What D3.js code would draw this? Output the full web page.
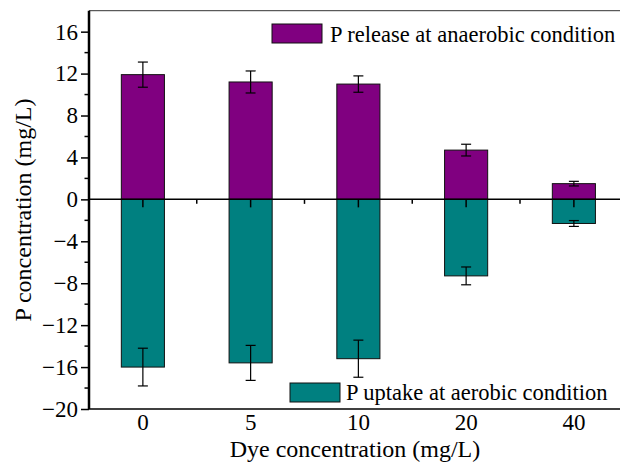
<!DOCTYPE html>
<html>
<head>
<meta charset="utf-8">
<script src="https://cdn.jsdelivr.net/npm/d3@7"></script>
<style>
  body { margin: 0; background: #fff; }
  svg text { font-family: "Liberation Serif", "Times New Roman", "DejaVu Serif", serif; }
</style>
</head>
<body>
<svg id="chart" width="620" height="471"></svg>
<script>
// dye concentration categories (mg/L)
var categories = ["0", "5", "10", "20", "40"];
// P release at anaerobic condition, mean and error
var releaseVals = [11.9, 11.2, 11.0, 4.7, 1.5];
var releaseErr = [1.2, 1.05, 0.78, 0.56, 0.22];
// P uptake at aerobic condition, mean and error
var uptakeVals = [-16.0, -15.6, -15.2, -7.3, -2.3];
var uptakeErr = [1.8, 1.67, 1.77, 0.85, 0.28];
var yTicks = [-20, -16, -12, -8, -4, 0, 4, 8, 12, 16];
var legendLabels = ["P release at anaerobic condition", "P uptake at aerobic condition"];
var colors = ["#800080", "#008080"];

var serif = "'Liberation Serif', 'Times New Roman', serif";
var svg = d3.select("#chart");
var plotL = 89, plotR = 627.75, plotT = 10.7, plotB = 409;

var x = d3.scaleBand().domain(categories).range([plotL, plotR])
  .paddingInner(0.6).paddingOuter(0.3);
var y = d3.scaleLinear().domain([-20, 18]).range([plotB, plotT]);

// frame lines (top and bottom)
svg.append("line").attr("x1", plotL).attr("x2", 620).attr("y1", plotT).attr("y2", plotT)
  .attr("stroke", "#333").attr("stroke-width", 1);
svg.append("line").attr("x1", plotL).attr("x2", 620).attr("y1", plotB).attr("y2", plotB)
  .attr("stroke", "#000").attr("stroke-width", 1.5);

// bars
function drawBars(vals, errs, color) {
  svg.selectAll(null).data(vals).enter().append("rect")
    .attr("x", function(d, i) { return x(categories[i]); })
    .attr("width", x.bandwidth())
    .attr("y", function(d) { return y(Math.max(0, d)); })
    .attr("height", function(d) { return Math.abs(y(d) - y(0)); })
    .attr("fill", color)
    .attr("stroke", "#111").attr("stroke-width", 1);

  var g = svg.selectAll(null).data(vals).enter().append("g")
    .attr("stroke", "#000").attr("stroke-width", 1.2);
  g.append("line")
    .attr("x1", function(d, i) { return x(categories[i]) + x.bandwidth() / 2; })
    .attr("x2", function(d, i) { return x(categories[i]) + x.bandwidth() / 2; })
    .attr("y1", function(d, i) { return y(d - errs[i]); })
    .attr("y2", function(d, i) { return y(d + errs[i]); });
  [-1, 1].forEach(function(s) {
    g.append("line")
      .attr("x1", function(d, i) { return x(categories[i]) + x.bandwidth() / 2 - 5; })
      .attr("x2", function(d, i) { return x(categories[i]) + x.bandwidth() / 2 + 5; })
      .attr("y1", function(d, i) { return y(d + s * errs[i]); })
      .attr("y2", function(d, i) { return y(d + s * errs[i]); });
  });
}
drawBars(releaseVals, releaseErr, colors[0]);
drawBars(uptakeVals, uptakeErr, colors[1]);

// zero line with ticks hanging down
svg.append("line").attr("x1", plotL).attr("x2", 620).attr("y1", y(0)).attr("y2", y(0))
  .attr("stroke", "#000").attr("stroke-width", 1.5);
var step = x.step();
categories.forEach(function(c, i) {
  var cx = x(c) + x.bandwidth() / 2;
  svg.append("line").attr("x1", cx).attr("x2", cx).attr("y1", y(0)).attr("y2", y(0) + 8)
    .attr("stroke", "#000").attr("stroke-width", 1.5);
  var mx = cx + step / 2;
  if (mx < 620) {
    svg.append("line").attr("x1", mx).attr("x2", mx).attr("y1", y(0)).attr("y2", y(0) + 4.5)
      .attr("stroke", "#000").attr("stroke-width", 1.5);
  }
});

// x tick labels at the bottom
svg.selectAll(null).data(categories).enter().append("text")
  .attr("x", function(d) { return x(d) + x.bandwidth() / 2; })
  .attr("y", 430)
  .attr("text-anchor", "middle")
  .attr("font-family", serif)
  .attr("font-size", 23)
  .text(function(d) { return d; });

// y axis
var yAxis = d3.axisLeft(y).tickValues(yTicks).tickSize(8).tickPadding(3)
  .tickFormat(d3.format("d"));
var ya = svg.append("g").attr("transform", "translate(" + plotL + ",0)").call(yAxis)
  .attr("font-family", serif).attr("font-size", 23);
ya.select(".domain").remove();
ya.selectAll(".tick line").attr("stroke-width", 1.5);
ya.selectAll(".tick text").attr("fill", "#000");
// minor ticks
d3.range(-18, 18, 4).forEach(function(v) {
  svg.append("line").attr("x1", plotL - 4.5).attr("x2", plotL).attr("y1", y(v)).attr("y2", y(v))
    .attr("stroke", "#000").attr("stroke-width", 1.5);
});
svg.append("line").attr("x1", plotL).attr("x2", plotL).attr("y1", plotT).attr("y2", plotB)
  .attr("stroke", "#000").attr("stroke-width", 2.5);

// axis titles
svg.append("text").attr("x", 355).attr("y", 457).attr("text-anchor", "middle")
  .attr("font-family", serif).attr("font-size", 24).text("Dye concentration (mg/L)");
svg.append("text").attr("transform", "translate(31,210) rotate(-90)")
  .attr("text-anchor", "middle").attr("font-family", serif).attr("font-size", 24)
  .text("P concentration (mg/L)");

// legends
var legendPos = [[272, 24, 330, 41.5], [290, 383, 346, 400]];
legendLabels.forEach(function(lab, i) {
  var p = legendPos[i];
  svg.append("rect").attr("x", p[0]).attr("y", p[1]).attr("width", 50).attr("height", 19)
    .attr("fill", colors[i]).attr("stroke", "#111").attr("stroke-width", 1);
  svg.append("text").attr("x", p[2]).attr("y", p[3]).attr("font-family", serif)
    .attr("font-size", 22.5).text(lab);
});
</script>
</body>
</html>
